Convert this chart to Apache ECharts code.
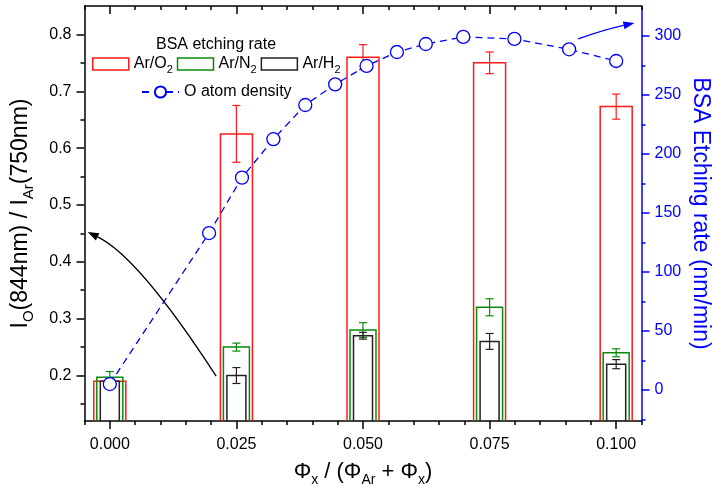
<!DOCTYPE html>
<html>
<head>
<meta charset="utf-8">
<script src="https://cdn.jsdelivr.net/npm/echarts@6/dist/echarts.min.js"></script>
<style>
  html, body { margin: 0; padding: 0; background: #fff; }
  #chart { width: 712px; height: 499px; }
</style>
</head>
<body>
<div id="chart"></div>
<script>
const FONT = '"Liberation Sans", Arial, Helvetica, sans-serif';

// Gas fraction used for each etching test
const ratios = [0, 0.025, 0.05, 0.075, 0.1];

// BSA etching rate per gas mixture (left scale) and its error
const etchO2 = [0.19, 0.625, 0.76, 0.75, 0.673];
const errO2  = [0, 0.05, 0.022, 0.019, 0.022];
const etchN2 = [0.197, 0.25, 0.28, 0.32, 0.24];
const errN2  = [0.01, 0.007, 0.013, 0.015, 0.007];
const etchH2 = [0.19, 0.2, 0.27, 0.26, 0.22];
const errH2  = [0, 0.014, 0.006, 0.014, 0.008];

// O atom density curve (right scale)
const densityX = [0, 0.0196, 0.0261, 0.0323, 0.0386, 0.0445, 0.0507, 0.0567, 0.0624, 0.0698, 0.0799, 0.0907, 0.1];
const densityY = [5, 133, 180, 212.5, 241.5, 259, 274.6, 286.4, 293.2, 299.2, 297.5, 288.7, 278.8];

// Tick values
const xTicks = [0, 0.025, 0.05, 0.075, 0.1];
const xMinor = [-0.005, 0.005, 0.01, 0.015, 0.02, 0.03, 0.035, 0.04, 0.045, 0.055, 0.06, 0.065, 0.07,
                0.08, 0.085, 0.09, 0.095, 0.105];
const leftTicks = [0.2, 0.3, 0.4, 0.5, 0.6, 0.7, 0.8];
const leftMinor = [0.15, 0.25, 0.35, 0.45, 0.55, 0.65, 0.75];
const rightTicks = [0, 50, 100, 150, 200, 250, 300];
const rightMinor = [-25, 25, 75, 125, 175, 225, 275];

// Axis ranges
const X_MIN = -0.005, X_MAX = 0.105;
const L_MIN = 0.12, L_MAX = 0.85;
const R_MIN = -26.3, R_MAX = 325.4;

const BLUE = '#0000ff';
const RED = '#ff1a1a';
const GREEN = '#0a8a0a';
const DARK = '#222222';

const chart = echarts.init(document.getElementById('chart'), null, { renderer: 'canvas' });

const subY = {
  n: { fontSize: 23, fontFamily: FONT, lineHeight: 31, verticalAlign: 'middle' },
  s: { fontSize: 15, fontFamily: FONT, lineHeight: 31, verticalAlign: 'bottom' }
};
const subX = {
  n: { fontSize: 22, fontFamily: FONT, lineHeight: 30, verticalAlign: 'middle' },
  s: { fontSize: 14, fontFamily: FONT, lineHeight: 30, verticalAlign: 'bottom' }
};

function barItem(width, color) {
  return function (params, api) {
    const x = api.value(0), v = api.value(1), e = api.value(2);
    const top = api.coord([x, v]);
    const base = api.coord([x, L_MIN]);
    const l = top[0] - width / 2, r = top[0] + width / 2;
    const children = [{
      type: 'polyline',
      shape: { points: [[l, base[1]], [l, top[1]], [r, top[1]], [r, base[1]]] },
      style: { fill: null, stroke: color, lineWidth: 1.5 }
    }];
    if (e > 0) {
      const hi = api.coord([x, v + e]);
      const lo = api.coord([x, v - e]);
      const cap = 4;
      children.push(
        { type: 'line', shape: { x1: hi[0], y1: hi[1], x2: lo[0], y2: lo[1] }, style: { stroke: color, lineWidth: 1.2 } },
        { type: 'line', shape: { x1: hi[0] - cap, y1: hi[1], x2: hi[0] + cap, y2: hi[1] }, style: { stroke: color, lineWidth: 1.2 } },
        { type: 'line', shape: { x1: lo[0] - cap, y1: lo[1], x2: lo[0] + cap, y2: lo[1] }, style: { stroke: color, lineWidth: 1.2 } }
      );
    }
    return { type: 'group', children: children };
  };
}

function barSeries(name, vals, errs, width, color, z) {
  return {
    name: name,
    type: 'custom',
    xAxisIndex: 0,
    yAxisIndex: 0,
    z: z,
    itemStyle: { color: color },
    encode: { x: 0, y: 1 },
    data: ratios.map((x, i) => [x, vals[i], errs[i]]),
    renderItem: barItem(width, color)
  };
}

function tickAxis(extra) {
  return Object.assign({
    type: 'value',
    axisLine: { show: false, onZero: false },
    axisLabel: { show: false },
    splitLine: { show: false },
    axisTick: { show: true }
  }, extra);
}

const legendNames = { 'Ar/O2': '{n|Ar/O}{s|2}', 'Ar/N2': '{n|Ar/N}{s|2}', 'Ar/H2': '{n|Ar/H}{s|2}' };
const legendRich = {
  n: { fontSize: 16, fontFamily: FONT, lineHeight: 22, verticalAlign: 'middle', color: '#000' },
  s: { fontSize: 11, fontFamily: FONT, lineHeight: 22, verticalAlign: 'bottom', color: '#000' }
};

const option = {
  animation: false,
  backgroundColor: '#fff',
  textStyle: { fontFamily: FONT },
  grid: { left: 84.5, right: 70.5, top: 6, bottom: 78, containLabel: false, outerBoundsMode: 'none' },
  legend: [{
    left: 92, top: 56, padding: 0, orient: 'horizontal',
    itemWidth: 36, itemHeight: 12, itemGap: 4,
    textStyle: { rich: legendRich },
    formatter: n => legendNames[n],
    data: [
      { name: 'Ar/O2', icon: 'rect', itemStyle: { color: 'rgba(0,0,0,0)', borderColor: RED, borderWidth: 1.5 } },
      { name: 'Ar/N2', icon: 'rect', itemStyle: { color: 'rgba(0,0,0,0)', borderColor: GREEN, borderWidth: 1.5 } },
      { name: 'Ar/H2', icon: 'rect', itemStyle: { color: 'rgba(0,0,0,0)', borderColor: DARK, borderWidth: 1.5 } }
    ]
  }, {
    left: 141, top: 84, padding: 0, itemWidth: 37, itemHeight: 14,
    textStyle: { fontSize: 16, fontFamily: FONT, color: '#000' },
    data: ['O atom density']
  }],
  xAxis: [
    {
      type: 'value', position: 'bottom', min: X_MIN, max: X_MAX,
      axisLine: { show: true, onZero: false, lineStyle: { color: '#000', width: 1.5 } },
      axisTick: { show: true, customValues: xTicks, length: 8, lineStyle: { color: '#000', width: 1.5 } },
      axisLabel: { customValues: xTicks, formatter: v => v.toFixed(3), fontSize: 16, color: '#000', margin: 16, fontFamily: FONT },
      splitLine: { show: false },
      name: '{n|Φ}{s|x}{n| / (Φ}{s|Ar}{n| + Φ}{s|x}{n|)}',
      nameLocation: 'middle', nameGap: 36,
      nameTextStyle: { rich: subX, color: '#000' }
    },
    tickAxis({ position: 'bottom', min: X_MIN, max: X_MAX,
      axisTick: { show: true, customValues: xMinor, length: 4, lineStyle: { color: '#000', width: 1.5 } } }),
    tickAxis({ position: 'top', min: X_MIN, max: X_MAX,
      axisLine: { show: true, onZero: false, lineStyle: { color: '#000', width: 1.5 } },
      axisTick: { show: true, inside: true, customValues: xTicks, length: 8, lineStyle: { color: '#000', width: 1.5 } } }),
    tickAxis({ position: 'top', min: X_MIN, max: X_MAX,
      axisTick: { show: true, inside: true, customValues: xMinor, length: 4, lineStyle: { color: '#000', width: 1.5 } } })
  ],
  yAxis: [
    {
      type: 'value', position: 'left', min: L_MIN, max: L_MAX,
      axisLine: { show: true, onZero: false, lineStyle: { color: '#000', width: 1.5 } },
      axisTick: { show: true, customValues: leftTicks, length: 8, lineStyle: { color: '#000', width: 1.5 } },
      axisLabel: { customValues: leftTicks, formatter: v => v.toFixed(1), fontSize: 16, color: '#000', margin: 13, fontFamily: FONT },
      splitLine: { show: false },
      name: '{n|I}{s|O}{n|(844nm) / I}{s|Ar}{n|(750nm)}',
      nameLocation: 'middle', nameGap: 48,
      nameTextStyle: { rich: subY, color: '#000' }
    },
    tickAxis({ position: 'left', min: L_MIN, max: L_MAX,
      axisTick: { show: true, customValues: leftMinor, length: 4, lineStyle: { color: '#000', width: 1.5 } } }),
    {
      type: 'value', position: 'right', min: R_MIN, max: R_MAX,
      axisLine: { show: true, onZero: false, lineStyle: { color: BLUE, width: 1.5 } },
      axisTick: { show: true, customValues: rightTicks, length: 8, lineStyle: { color: BLUE, width: 1.5 } },
      axisLabel: { customValues: rightTicks, fontSize: 16, color: BLUE, margin: 13, fontFamily: FONT },
      splitLine: { show: false }
    },
    tickAxis({ position: 'right', min: R_MIN, max: R_MAX,
      axisTick: { show: true, customValues: rightMinor, length: 4, lineStyle: { color: BLUE, width: 1.5 } } })
  ],
  series: [
    barSeries('Ar/O2', etchO2, errO2, 32, RED, 2),
    barSeries('Ar/N2', etchN2, errN2, 26, GREEN, 3),
    barSeries('Ar/H2', etchH2, errH2, 19, DARK, 4),
    {
      name: 'O atom density',
      type: 'line',
      xAxisIndex: 0,
      yAxisIndex: 2,
      z: 6,
      data: densityX.map((x, i) => [x, densityY[i]]),
      symbol: 'circle',
      symbolSize: 13,
      itemStyle: { color: '#fff', borderColor: BLUE, borderWidth: 1.3 },
      lineStyle: { color: BLUE, width: 1.3, type: [7, 5] }
    }
  ]
};

chart.setOption(option);

// Pointer arrows, placed in data space: [x, value] on the given y axis
const arrowToLeft  = { yAxisIndex: 0, from: [0.0210, 0.199], ctrl: [0.00575, 0.4085], to: [-0.00436, 0.4525], color: '#000' };
const arrowToRight = { yAxisIndex: 2, from: [0.0925, 297.5], ctrl: [0.0973, 305], to: [0.1036, 311], color: BLUE };

function arrowGraphic(a) {
  const f = { xAxisIndex: 0, yAxisIndex: a.yAxisIndex };
  const p0 = chart.convertToPixel(f, a.from);
  const c = chart.convertToPixel(f, a.ctrl);
  const p1 = chart.convertToPixel(f, a.to);
  const dx = p1[0] - c[0], dy = p1[1] - c[1];
  const len = Math.hypot(dx, dy);
  const ux = dx / len, uy = dy / len;
  const hl = 11, hw = 4;
  const bx = p1[0] - ux * hl, by = p1[1] - uy * hl;
  return [
    { type: 'bezierCurve', z: 10, silent: true,
      shape: { x1: p0[0], y1: p0[1], cpx1: c[0], cpy1: c[1], x2: bx, y2: by },
      style: { stroke: a.color, lineWidth: 1.3, fill: null } },
    { type: 'polygon', z: 10, silent: true,
      shape: { points: [[p1[0], p1[1]], [bx - uy * hw, by + ux * hw], [bx + uy * hw, by - ux * hw]] },
      style: { fill: a.color } }
  ];
}

// Right-hand axis title, turned to read downwards, centred on the axis span
const rightTop = chart.convertToPixel({ yAxisIndex: 2 }, R_MAX);
const rightBottom = chart.convertToPixel({ yAxisIndex: 2 }, R_MIN);

chart.setOption({
  graphic: [
    { type: 'text', left: 156, top: 37, silent: true,
      style: { text: 'BSA etching rate', fontSize: 16, fontFamily: FONT, fill: '#000' } },
    { type: 'text', x: 700, y: (rightTop + rightBottom) / 2, rotation: -Math.PI / 2, silent: true,
      style: { text: 'BSA Etching rate (nm/min)', fontSize: 23, fontFamily: FONT, fill: BLUE,
               align: 'center', verticalAlign: 'middle' } }
  ].concat(arrowGraphic(arrowToLeft), arrowGraphic(arrowToRight))
});
</script>
</body>
</html>
